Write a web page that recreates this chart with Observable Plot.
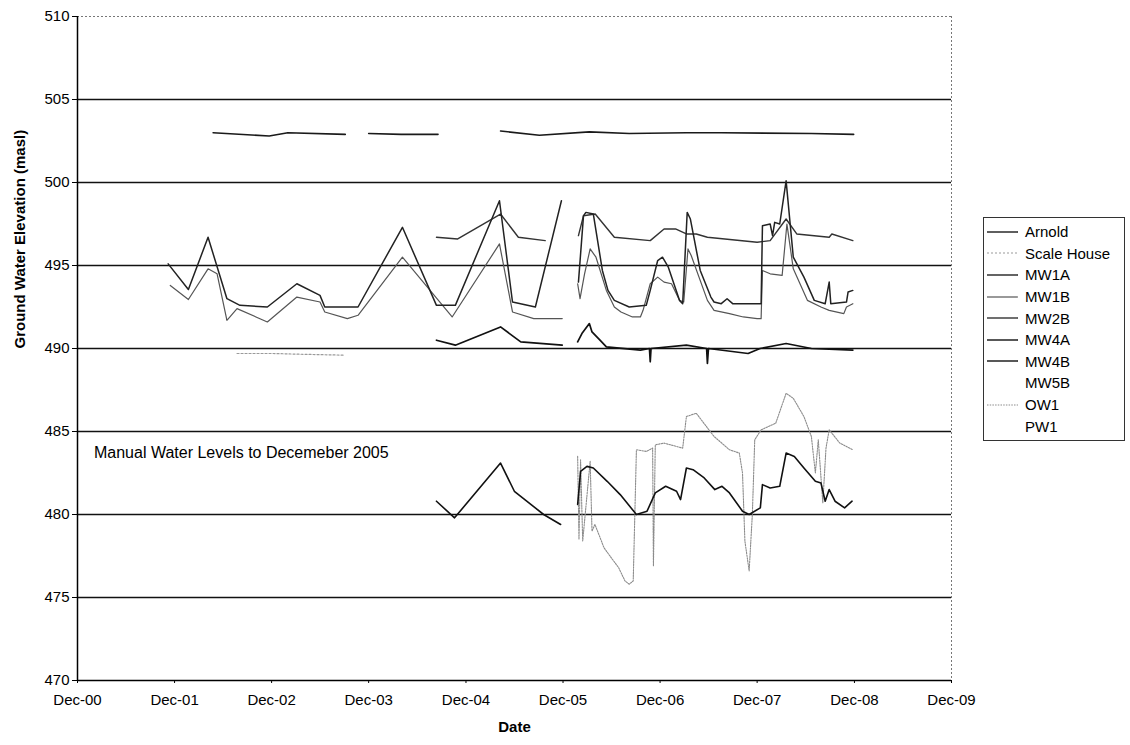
<!DOCTYPE html>
<html><head><meta charset="utf-8">
<script src="https://cdn.jsdelivr.net/npm/d3@7"></script>
<script src="https://cdn.jsdelivr.net/npm/@observablehq/plot@0.6"></script>
<style>
html,body{margin:0;padding:0;background:#fff;}
#wrap{position:relative;width:1130px;height:745px;font-family:"Liberation Sans",Arial,sans-serif;}
#legend{position:absolute;left:983px;top:217px;width:142px;border:1px solid #333;box-sizing:border-box;padding:3px 0;background:#fff;}
.row{height:21.6px;display:flex;align-items:center;font-size:15px;color:#000;}
.row svg{margin-left:3px;margin-right:7px;flex:none;}
</style></head><body><div id="wrap"><div id="chart"></div><div id="legend"></div></div>
<script>
// ---------- data ----------
const seriesNames = ["Arnold","Scale House","MW1A","MW1B","MW2B","MW4A","MW4B","MW5B","OW1","PW1"];
const yTicks = [470,475,480,485,490,495,500,505,510];
const gridValues = [475,480,485,490,495,500,505];
const xTickYears = [2000,2001,2002,2003,2004,2005,2006,2007,2008,2009];

const arnoldDates = ["2002-04-25","2002-11-22","2003-01-31","2003-09-04","2003-10-15","2003-12-01","2004-04-01","2004-08-18","2004-12-01","2005-04-10","2005-09-03","2006-03-10","2006-08-07","2007-03-10","2007-07-19","2008-06-22","2008-11-28"];
const arnoldValues = [503.0,502.8,503.0,502.9,null,502.95,502.9,502.9,null,503.1,502.85,503.05,502.95,503.0,503.0,502.95,502.9];

const scaleHouseDates = ["2002-07-24","2002-12-01","2003-04-01","2003-08-28"];
const scaleHouseValues = [489.7,489.7,489.65,489.6];

const mw1aDates = ["2001-11-07","2002-01-22","2002-04-06","2002-06-16","2002-08-04","2002-11-15","2003-03-06","2003-06-01","2003-06-19","2003-10-22","2004-04-06","2004-08-12","2004-10-22","2005-04-06","2005-05-25","2005-08-19","2005-11-25","2005-12-31",
"2006-01-28","2006-02-16","2006-02-25","2006-03-25","2006-04-28","2006-05-19","2006-06-12","2006-08-07","2006-10-10","2006-10-25","2006-11-22","2006-12-10","2007-01-01","2007-02-12","2007-02-24","2007-03-13","2007-03-25","2007-05-01","2007-06-10","2007-06-22","2007-07-19","2007-08-10","2007-08-31","2007-12-16","2007-12-21","2008-01-19","2008-01-28","2008-02-05","2008-02-24","2008-03-19","2008-04-15","2008-05-25","2008-07-03","2008-08-13","2008-08-28","2008-09-03","2008-11-01","2008-11-07","2008-11-25"];
const mw1aValues = [495.1,493.55,496.7,493.0,492.6,492.5,493.9,493.2,492.5,492.5,497.3,492.6,492.6,498.9,492.8,492.5,498.9,null,
494.0,498.0,498.2,498.1,494.7,493.5,492.9,492.5,492.6,493.5,495.3,495.5,494.9,492.9,492.7,498.2,497.8,494.7,493.1,492.8,492.7,493.0,492.7,492.7,497.4,497.5,496.8,497.6,497.5,500.1,495.5,494.3,492.9,492.7,494.0,492.7,492.8,493.4,493.5];

const mw1bDates = ["2001-11-15","2002-01-22","2002-04-06","2002-05-10","2002-06-16","2002-07-24","2002-11-15","2003-03-06","2003-06-01","2003-06-19","2003-09-12","2003-10-22","2004-04-06","2004-10-10","2005-04-06","2005-05-25","2005-08-13","2005-11-28","2005-12-31",
"2006-01-25","2006-02-03","2006-02-20","2006-03-13","2006-04-04","2006-05-13","2006-06-12","2006-07-07","2006-08-19","2006-09-18","2006-09-28","2006-10-25","2006-11-22","2006-12-16","2007-01-13","2007-02-12","2007-02-28","2007-03-16","2007-03-28","2007-05-28","2007-06-22","2007-08-19","2007-10-10","2007-12-01","2007-12-16","2007-12-21","2008-01-19","2008-03-04","2008-03-22","2008-04-15","2008-06-07","2008-07-28","2008-08-28","2008-10-22","2008-11-01","2008-11-25"];
const mw1bValues = [493.8,492.95,494.8,494.5,491.7,492.4,491.6,493.1,492.8,492.2,491.8,492.0,495.5,491.9,496.3,492.2,491.8,491.8,null,
493.9,493.0,494.5,496.0,495.5,493.5,492.5,492.2,491.9,491.9,492.3,493.9,494.3,494.0,493.9,492.9,492.8,496.0,495.6,492.9,492.3,492.1,491.9,491.8,491.8,494.7,494.5,494.4,497.5,494.8,492.9,492.5,492.3,492.1,492.5,492.7];

const mw2bDates = ["2004-08-12","2004-10-31","2005-04-10","2005-06-16","2005-09-25","2005-12-31",
"2006-01-28","2006-02-16","2006-04-01","2006-06-12","2006-10-25","2006-12-16","2007-01-28","2007-03-10","2007-04-16","2007-05-28","2007-12-01","2008-01-19","2008-03-19","2008-04-28","2008-08-28","2008-09-07","2008-11-25"];
const mw2bValues = [496.7,496.6,498.1,496.7,496.5,null,
496.8,498.0,498.1,496.7,496.5,497.2,497.2,496.9,496.9,496.7,496.4,496.5,497.8,496.9,496.7,496.9,496.5];

const mw4aDates = ["2004-08-12","2004-10-22","2005-04-10","2005-06-25","2005-11-28","2005-12-31",
"2006-01-25","2006-02-10","2006-03-10","2006-03-20","2006-04-19","2006-05-13","2006-09-18","2006-10-22","2006-10-25","2006-10-28","2007-03-10","2007-05-25","2007-05-28","2007-06-01","2007-10-28","2007-12-12","2008-03-19","2008-06-22","2008-11-25"];
const mw4aValues = [490.5,490.2,491.3,490.4,490.2,null,
490.4,490.9,491.5,491.0,490.5,490.1,489.9,490.0,489.2,490.0,490.2,490.0,489.1,490.0,489.7,490.0,490.3,490.0,489.9];

const mw4bDates = ["2004-08-12","2004-10-19","2005-04-10","2005-06-01","2005-09-19","2005-11-22","2005-12-31",
"2006-01-25","2006-02-05","2006-03-01","2006-03-25","2006-05-16","2006-07-04","2006-09-03","2006-10-13","2006-11-13","2006-12-22","2007-02-01","2007-02-16","2007-03-10","2007-04-04","2007-05-16","2007-06-25","2007-07-22","2007-08-19","2007-10-07","2007-11-01","2007-12-13","2007-12-21","2008-01-19","2008-02-24","2008-03-19","2008-04-19","2008-05-25","2008-07-07","2008-07-28","2008-08-13","2008-08-28","2008-09-19","2008-10-25","2008-11-22"];
const mw4bValues = [480.8,479.8,483.1,481.4,480.0,479.4,null,
480.6,482.6,482.9,482.8,482.0,481.2,480.0,480.2,481.3,481.7,481.4,480.9,482.8,482.7,482.2,481.5,481.7,481.3,480.2,480.0,480.4,481.8,481.6,481.7,483.7,483.5,482.8,482.0,481.9,480.8,481.5,480.8,480.4,480.8];

const ow1Dates = ["2006-01-25","2006-01-30","2006-02-05","2006-02-13","2006-03-13","2006-03-20","2006-03-31","2006-05-04","2006-05-31","2006-06-28","2006-07-22","2006-08-07","2006-08-22","2006-09-03","2006-10-10","2006-11-03","2006-11-06","2006-11-13","2006-12-16","2007-02-24","2007-03-10","2007-04-16","2007-06-22","2007-08-19","2007-09-25","2007-10-07","2007-10-16","2007-11-01","2007-11-13","2007-11-22","2007-12-16","2008-02-09","2008-03-19","2008-04-15","2008-05-25","2008-06-22","2008-07-07","2008-07-18","2008-08-04","2008-08-16","2008-08-28","2008-10-07","2008-11-25"];
const ow1Values = [483.5,478.5,483.3,478.4,483.2,479.0,479.4,478.0,477.4,476.8,476.0,475.8,476.0,483.9,483.8,484.0,476.9,484.2,484.3,484.0,485.9,486.1,484.7,483.9,483.7,482.5,478.4,476.6,480.0,484.5,485.1,485.5,487.3,487.0,485.9,484.7,482.5,484.5,480.7,484.0,485.1,484.3,483.9];

const annotationText = ["Manual Water Levels to Decemeber 2005"];
const annotationDate = ["2001-02-01"];
const annotationValue = [483.7];

// ---------- build ----------
const parse = d3.utcParse("%Y-%m-%d");
const rows = (dates, values) => dates.map((d, i) => ({date: parse(d), value: values[i]}));
const styles = {
  "Arnold":      {stroke:"#1a1a1a", strokeWidth:1.6, dash:null},
  "Scale House": {stroke:"#9a9a9a", strokeWidth:1.2, dash:"2,2"},
  "MW1A":        {stroke:"#222", strokeWidth:1.5, dash:null},
  "MW1B":        {stroke:"#555", strokeWidth:1.2, dash:null},
  "MW2B":        {stroke:"#333", strokeWidth:1.4, dash:null},
  "MW4A":        {stroke:"#111", strokeWidth:1.7, dash:null},
  "MW4B":        {stroke:"#111", strokeWidth:1.6, dash:null},
  "MW5B":        {stroke:"#fff", strokeWidth:1, dash:null},
  "OW1":         {stroke:"#8c8c8c", strokeWidth:1.1, dash:"1.5,1.2"},
  "PW1":         {stroke:"#fff", strokeWidth:1, dash:null}
};
const seriesData = {
  "Arnold": rows(arnoldDates, arnoldValues),
  "Scale House": rows(scaleHouseDates, scaleHouseValues),
  "MW1A": rows(mw1aDates, mw1aValues),
  "MW1B": rows(mw1bDates, mw1bValues),
  "MW2B": rows(mw2bDates, mw2bValues),
  "MW4A": rows(mw4aDates, mw4aValues),
  "MW4B": rows(mw4bDates, mw4bValues),
  "OW1": rows(ow1Dates, ow1Values)
};
const drawOrder = ["Scale House","OW1","MW1B","MW2B","MW1A","MW4A","MW4B","Arnold"];
const lineMarks = drawOrder.map(name => Plot.line(seriesData[name], {
  x: "date", y: "value", stroke: styles[name].stroke, strokeWidth: styles[name].strokeWidth,
  strokeDasharray: styles[name].dash || undefined, strokeLinejoin: "round"
}));

const xTicks = xTickYears.map(y => new Date(Date.UTC(y, 11, 1)));
const xMin = xTicks[0], xMax = xTicks[xTicks.length - 1];
const annotation = annotationText.map((t, i) => ({text: t, date: parse(annotationDate[i]), value: annotationValue[i]}));

const chart = Plot.plot({
  width: 1130, height: 745,
  marginLeft: 77, marginRight: 179, marginTop: 16, marginBottom: 65,
  style: {fontFamily: '"Liberation Sans", Arial, sans-serif', fontSize: "15px", background: "#fff", color: "#000", overflow: "visible"},
  x: {type: "utc", domain: [xMin, xMax]},
  y: {domain: [470, 510]},
  marks: [
    Plot.ruleY(gridValues, {stroke: "#111", strokeWidth: 1.5}),
    Plot.ruleY([510], {stroke: "#777", strokeDasharray: "2,2"}),
    Plot.ruleX([xMax], {stroke: "#777", strokeDasharray: "2,2"}),
    ...lineMarks,
    Plot.text(annotation, {x: "date", y: "value", text: "text", textAnchor: "start", fontSize: 16}),
    Plot.axisX({ticks: xTicks, tickFormat: d3.utcFormat("%b-%y"), tickSize: 3, tickPadding: 11, label: null}),
    Plot.axisY({ticks: yTicks, tickSize: 5, tickPadding: 3, label: null}),
    Plot.ruleY([470], {stroke: "#000", strokeWidth: 1.5}),
    Plot.ruleX([xMin], {stroke: "#000", strokeWidth: 1.5}),
    Plot.text(["Date"], {frameAnchor: "bottom", dy: 51, fontWeight: "bold", fontSize: 15}),
    Plot.text(["Ground Water Elevation (masl)"], {frameAnchor: "left", dx: -57, rotate: -90, fontWeight: "bold", fontSize: 15})
  ]
});
document.getElementById("chart").appendChild(chart);

// legend
const legend = d3.select("#legend");
seriesNames.forEach(name => {
  const s = styles[name];
  const row = legend.append("div").attr("class", "row");
  const sw = row.append("svg").attr("width", 31).attr("height", 10);
  sw.append("line").attr("x1", 0).attr("x2", 31).attr("y1", 5).attr("y2", 5)
    .attr("stroke", s.stroke).attr("stroke-width", Math.min(s.strokeWidth, 1.4))
    .attr("stroke-dasharray", s.dash);
  row.append("span").text(name);
});
</script></body></html>
